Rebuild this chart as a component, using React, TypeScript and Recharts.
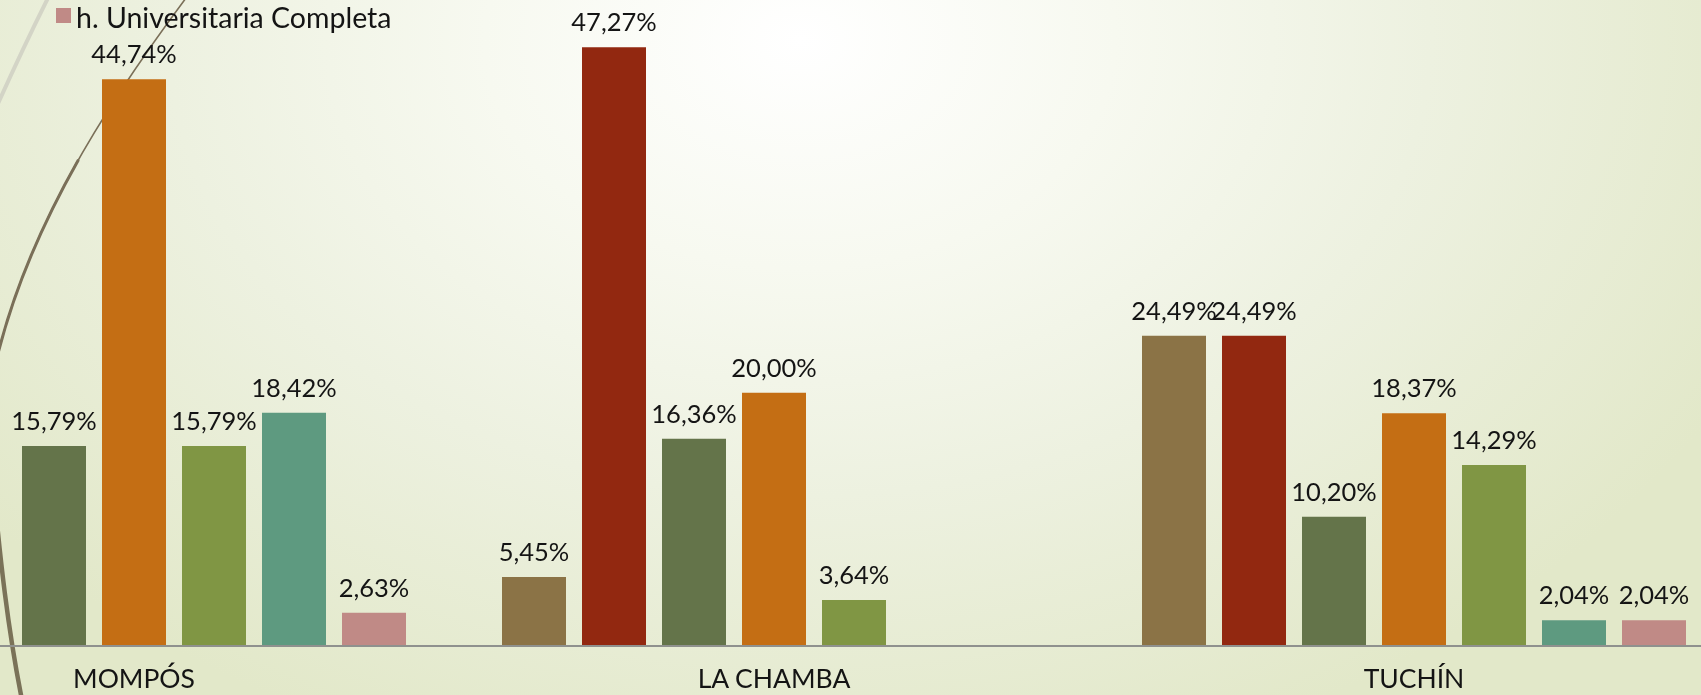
import React from 'react';
import { BarChart, Bar, XAxis, YAxis, LabelList, Legend } from 'recharts';

const categories = ['MOMPÓS', 'LA CHAMBA', 'TUCHÍN'];
const seriesNames = [
  'a. Sin Estudios',
  'b. Primaria Incompleta',
  'c. Primaria Completa',
  'd. Secundaria Incompleta',
  'e. Secundaria Completa',
  'f. Técnico / Tecnológico',
  'h. Universitaria Completa',
];
const seriesKeys = ['a', 'b', 'c', 'd', 'e', 'f', 'h'];
const seriesColors = ['#8B7346', '#922810', '#64744A', '#C46E14', '#809644', '#5E9A80', '#C08A86'];

const valuesA = [null, 5.45, 24.49];
const valuesB = [null, 47.27, 24.49];
const valuesC = [15.79, 16.36, 10.2];
const valuesD = [44.74, 20.0, 18.37];
const valuesE = [15.79, 3.64, 14.29];
const valuesF = [18.42, null, 2.04];
const valuesH = [2.63, null, 2.04];

const seriesValues = [valuesA, valuesB, valuesC, valuesD, valuesE, valuesF, valuesH];

const data = categories.map((name, i) => {
  const row: Record<string, any> = { name };
  seriesKeys.forEach((k, s) => {
    row[k] = seriesValues[s][i];
  });
  return row;
});

const FONT = 'Lato, "Noto Sans", sans-serif';

const fmt = (v: number) => v.toFixed(2).replace('.', ',') + '%';

const renderLabel = (props: any) => {
  const { x, y, width, value } = props;
  if (value === null || value === undefined || value === 0) return null;
  return (
    <text x={x + width / 2} y={y - 16} textAnchor="middle" fill="#141414" fontSize={25.5} fontFamily={FONT}>
      {fmt(Number(value))}
    </text>
  );
};

const renderTick = (props: any) => {
  const { x, y, payload } = props;
  return (
    <text x={x} y={y + 42} textAnchor="middle" fill="#141414" fontSize={26.5} fontFamily={FONT}>
      {payload.value}
    </text>
  );
};

const CHART_LEFT = -186;

const renderLegend = () => {
  const last = seriesNames.length - 1;
  return (
    <div style={{ position: 'relative', height: 0, overflow: 'visible', fontFamily: FONT }}>
      <span
        style={{
          position: 'absolute',
          left: 56 - CHART_LEFT,
          top: 8,
          width: 15,
          height: 15,
          background: seriesColors[last],
        }}
      />
      <span
        style={{
          position: 'absolute',
          left: 76 - CHART_LEFT,
          top: 0,
          fontSize: 28.5,
          color: '#141414',
          whiteSpace: 'nowrap',
          lineHeight: '35px',
        }}
      >
        {seriesNames[last]}
      </span>
    </div>
  );
};

const ARC = 'M 186 -2 C 110 100, 22 232, -8 380';

export default function App() {
  return (
    <div
      style={{
        position: 'fixed',
        left: 0,
        top: 0,
        width: 1701,
        height: 695,
        overflow: 'hidden',
        background:
          'radial-gradient(ellipse 1050px 760px at 800px 40px, #ffffff 0%, #f7f9f0 30%, #edf1e0 60%, #e2e8c9 100%)',
      }}
    >
      <svg width={1701} height={695} style={{ position: 'absolute', left: 0, top: 0 }}>
        <path d="M 48 -2 Q 22 50 -4 108" stroke="#d3d4c6" strokeWidth={4} fill="none" />
        <path d={ARC} stroke="#7a6f58" strokeWidth={1.6} fill="none" />
        <path d={ARC} pathLength={100} strokeDasharray="0 45 55 0" stroke="#7a6f58" strokeWidth={3} fill="none" />
        <path d="M -8 470 C 0 560, 8 630, 22 700" stroke="#7a7258" strokeWidth={4.5} fill="none" />
      </svg>
      <div style={{ position: 'absolute', left: CHART_LEFT, top: 0 }}>
        <BarChart
          width={1920}
          height={695}
          data={data}
          margin={{ top: 12.66, right: 0, bottom: 0, left: 0 }}
          barCategoryGap={48}
          barGap={16}
        >
          <XAxis
            dataKey="name"
            height={49}
            tickLine={false}
            tickSize={0}
            tickMargin={0}
            axisLine={{ stroke: '#8f918e', strokeWidth: 2 }}
            tick={renderTick}
            interval={0}
          />
          <YAxis hide domain={[0, 50]} />
          <Legend
            content={renderLegend}
            verticalAlign="top"
            height={0}
            wrapperStyle={{ position: 'absolute', top: 0, left: 0, width: 1920, height: 0 }}
          />
          {seriesKeys.map((k, s) => (
            <Bar key={k} dataKey={k} name={seriesNames[s]} fill={seriesColors[s]} isAnimationActive={false}>
              <LabelList dataKey={k} content={renderLabel} />
            </Bar>
          ))}
        </BarChart>
      </div>
    </div>
  );
}
